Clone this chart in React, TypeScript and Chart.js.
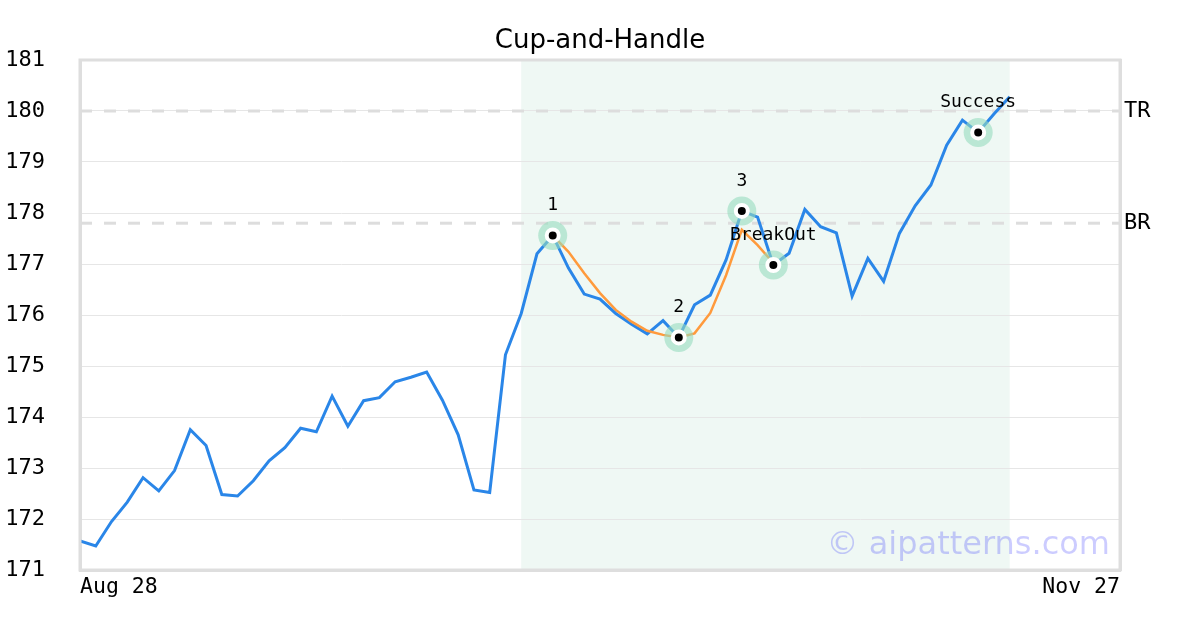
import { useEffect, useRef } from "react";
import { Chart, registerables } from "chart.js";

Chart.register(...registerables);

// ---- data ----
const blueValues: number[] = [
  171.57, 171.47, 171.95, 172.33, 172.81, 172.55, 172.95, 173.75, 173.44, 172.48,
  172.45, 172.75, 173.14, 173.40, 173.78, 173.71, 174.41, 173.82, 174.32, 174.38,
  174.69, 174.78, 174.88, 174.33, 173.65, 172.57, 172.52, 175.22, 176.03, 177.20,
  177.56, 176.92, 176.41, 176.31, 176.03, 175.82, 175.63, 175.89, 175.56, 176.20,
  176.39, 177.08, 178.04, 177.92, 176.98, 177.21, 178.07, 177.73, 177.61, 176.37,
  177.11, 176.66, 177.60, 178.14, 178.55, 179.33, 179.82, 179.58, 179.94, 180.28,
];
const orangeStart = 30;
const orangeValues: number[] = [
  177.56, 177.24, 176.82, 176.43, 176.10, 175.87, 175.69, 175.61, 175.56, 175.64,
  176.04, 176.78, 177.67, 177.37, 177.02,
];
const markerIndices: number[] = [30, 38, 42, 44, 57];
const markerValues: number[] = [177.56, 175.56, 178.04, 176.98, 179.58];
const markerLabels: string[] = ["1", "2", "3", "BreakOut", "Success"];

const levelValues: number[] = [180.0, 177.8];
const levelLabels: string[] = ["TR", "BR"];

const xTickPositions: number[] = [0, 66];
const xTickLabels: string[] = ["Aug 28", "Nov 27"];
const shadeRange: number[] = [28, 59];

const yMin = 171;
const yMax = 181;

const MONO = "'DejaVu Sans Mono', monospace";
const SANS = "'DejaVu Sans', sans-serif";

const shadePlugin = {
  id: "shade",
  beforeDraw(chart: any) {
    const { ctx, chartArea, scales } = chart;
    const x0 = scales.x.getPixelForValue(shadeRange[0]);
    const x1 = scales.x.getPixelForValue(shadeRange[1]);
    ctx.save();
    ctx.fillStyle = "#eff8f4";
    ctx.fillRect(x0, chartArea.top, x1 - x0, chartArea.bottom - chartArea.top);
    ctx.restore();
  },
};

const framePlugin = {
  id: "frame",
  afterDatasetsDraw(chart: any) {
    const { ctx, chartArea } = chart;
    ctx.save();
    ctx.strokeStyle = "#dedede";
    ctx.lineWidth = 3;
    ctx.strokeRect(chartArea.left, chartArea.top, chartArea.right - chartArea.left, chartArea.bottom - chartArea.top);
    ctx.restore();
  },
};

const markerLabelPlugin = {
  id: "markerLabels",
  afterDatasetsDraw(chart: any) {
    const { ctx } = chart;
    const meta = chart.getDatasetMeta(0);
    ctx.save();
    ctx.font = `18px ${MONO}`;
    ctx.fillStyle = "#000";
    ctx.textAlign = "center";
    ctx.textBaseline = "middle";
    meta.data.forEach((pt: any, i: number) => {
      ctx.fillText(markerLabels[i], pt.x, pt.y - 30);
    });
    ctx.restore();
  },
};

const watermarkPlugin = {
  id: "watermark",
  afterDraw(chart: any) {
    const { ctx, chartArea } = chart;
    ctx.save();
    ctx.font = `32px ${SANS}`;
    ctx.fillStyle = "rgba(0,0,255,0.2)";
    ctx.textAlign = "right";
    ctx.textBaseline = "alphabetic";
    ctx.fillText("© aipatterns.com", chartArea.right - 10, chartArea.bottom - 16);
    ctx.restore();
  },
};

export default function App() {
  const ref = useRef<HTMLCanvasElement | null>(null);

  useEffect(() => {
    if (!ref.current) return;
    const markerPts = markerIndices.map((x, i) => ({ x, y: markerValues[i] }));
    const chart = new Chart(ref.current, {
      type: "line",
      data: {
        datasets: [
          {
            label: "dots",
            data: markerPts,
            showLine: false,
            pointRadius: 6,
            pointBackgroundColor: "#000",
            pointBorderColor: "#fff",
            pointBorderWidth: 4,
          },
          {
            label: "halo",
            data: markerPts,
            showLine: false,
            pointRadius: 14.5,
            pointBackgroundColor: "rgba(150,220,190,0.6)",
            pointBorderWidth: 0,
          },
          {
            label: "cup",
            data: orangeValues.map((y, i) => ({ x: orangeStart + i, y })),
            borderColor: "#ff9a3c",
            borderWidth: 2.5,
            pointRadius: 0,
            tension: 0,
          },
          {
            label: "price",
            data: blueValues.map((y, i) => ({ x: i, y })),
            borderColor: "#2a86e8",
            borderWidth: 3,
            pointRadius: 0,
            tension: 0,
          },
          ...levelValues.map((v) => ({
            label: "level",
            data: [
              { x: xTickPositions[0], y: v },
              { x: xTickPositions[1], y: v },
            ],
            borderColor: "#dddddd",
            borderWidth: 3,
            borderDash: [12, 12],
            pointRadius: 0,
          })),
        ],
      },
      options: {
        responsive: false,
        animation: false,
        devicePixelRatio: 1,
        layout: { padding: 0 },
        plugins: {
          legend: { display: false },
          tooltip: { enabled: false },
          title: {
            display: true,
            text: "Cup-and-Handle",
            color: "#000",
            font: { family: SANS, size: 26, weight: "normal" },
            padding: { top: 25.4, bottom: 3.4 },
          },
        },
        scales: {
          x: {
            type: "linear",
            min: xTickPositions[0],
            max: xTickPositions[1],
            afterBuildTicks: (scale: any) => {
              scale.ticks = xTickPositions.map((value) => ({ value }));
            },
            afterFit: (scale: any) => {
              scale.height = 60;
            },
            grid: { display: false, drawTicks: false },
            border: { display: true, color: "#dedede", width: 3 },
            ticks: {
              autoSkip: false,
              maxRotation: 0,
              align: "inner",
              padding: 5,
              color: "#000",
              font: { family: MONO, size: 21.5 },
              callback: (value: any) => {
                const k = xTickPositions.indexOf(Number(value));
                return k >= 0 ? xTickLabels[k] : "";
              },
            },
          },
          y: {
            type: "linear",
            position: "left",
            min: yMin,
            max: yMax,
            afterFit: (scale: any) => {
              scale.width = 80;
            },
            grid: { color: "#e6e6e6", lineWidth: 1, drawTicks: false },
            border: { display: true, color: "#dedede", width: 3 },
            ticks: {
              stepSize: 1,
              padding: 35,
              color: "#000",
              font: { family: MONO, size: 22 },
            },
          },
          yR: {
            type: "linear",
            position: "right",
            min: yMin,
            max: yMax,
            afterBuildTicks: (scale: any) => {
              scale.ticks = levelValues.map((value) => ({ value }));
            },
            afterFit: (scale: any) => {
              scale.width = 80;
            },
            grid: { display: false, drawTicks: false },
            border: { display: true, color: "#dedede", width: 3 },
            ticks: {
              padding: 4,
              color: "#000",
              font: { family: MONO, size: 22 },
              callback: (value: any) => {
                const k = levelValues.indexOf(Number(value));
                return k >= 0 ? levelLabels[k] : "";
              },
            },
          },
        },
      },
      plugins: [shadePlugin, framePlugin, markerLabelPlugin, watermarkPlugin],
    } as any);
    return () => chart.destroy();
  }, []);

  return (
    <div style={{ position: "absolute", left: 0, top: 0, width: 1200, height: 630 }}>
      <canvas ref={ref} width={1200} height={630} />
    </div>
  );
}
